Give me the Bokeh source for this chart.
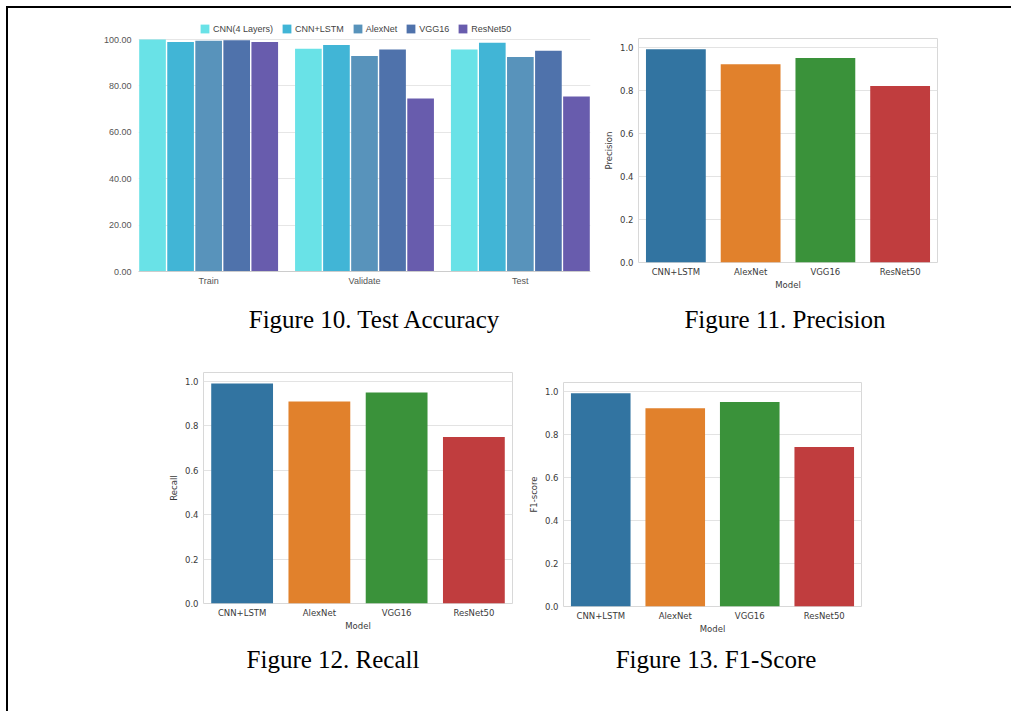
from bokeh.plotting import figure
from bokeh.models import (ColumnDataSource, FactorRange, Range1d, FixedTicker, Legend,
                          LegendItem, NumeralTickFormatter, Div)
from bokeh.layouts import column
from bokeh.transform import dodge
from bokeh.embed import file_html
from bokeh.resources import INLINE

# ---------------- data ----------------
# Figure 10 (accuracy, %)
acc_groups = ["Train", "Validate", "Test"]
acc_models = ["CNN(4 Layers)", "CNN+LSTM", "AlexNet", "VGG16", "ResNet50"]
acc_cnn4 = [100.0, 96.0, 95.7]
acc_cnn_lstm = [98.9, 97.6, 98.6]
acc_alexnet = [99.5, 92.9, 92.5]
acc_vgg16 = [99.7, 95.7, 95.2]
acc_resnet50 = [98.9, 74.6, 75.4]
acc_ticks = [0, 20, 40, 60, 80, 100]

# Figures 11-13
metric_models = ["CNN+LSTM", "AlexNet", "VGG16", "ResNet50"]
precision = [0.99, 0.92, 0.95, 0.82]
recall = [0.99, 0.91, 0.95, 0.75]
f1_score = [0.99, 0.92, 0.95, 0.74]
metric_ticks = [0.0, 0.2, 0.4, 0.6, 0.8, 1.0]

captions = ["Figure 10. Test Accuracy", "Figure 11. Precision",
            "Figure 12. Recall", "Figure 13. F1-Score"]

# ---------------- styles ----------------
acc_colors = ["#69e2e7", "#41b5d6", "#5893bb", "#4f72ab", "#685cad"]
sns_colors = ["#3274a1", "#e1812c", "#3a923a", "#c03d3e"]
SANS = "Liberation Sans"
SNS = "DejaVu Sans"
SERIF = "Liberation Serif"

# uniform plot borders (plots sharing a column get their borders aligned)
BL, BR, BT, BB = 128, 10, 10, 40


def place(x, y):
    return {"position": "absolute", "left": f"{x}px", "top": f"{y}px"}


def frame_fig(fx, fy, fw, fh, **kw):
    return figure(width=BL + fw + BR, height=BT + fh + BB,
                  min_border_left=BL, min_border_right=BR,
                  min_border_top=BT, min_border_bottom=BB,
                  output_backend="svg", toolbar_location=None,
                  border_fill_color=None, styles=place(fx - BL, fy - BT), **kw)


# ---------------- Figure 10 ----------------
# frame spans y 14..271; value 100 sits at y 39
p10 = frame_fig(138, 14, 452, 257,
                x_range=Range1d(-0.45, 2.45), y_range=Range1d(0, 100 * 257 / 232))
series = [acc_cnn4, acc_cnn_lstm, acc_alexnet, acc_vgg16, acc_resnet50]
items = []
for i, (name, vals, col) in enumerate(zip(acc_models, series, acc_colors)):
    src = ColumnDataSource(dict(x=list(range(len(acc_groups))), top=vals))
    r = p10.vbar(x=dodge("x", (i - 2) * 0.18), top="top", bottom=0, width=0.171,
                 source=src, fill_color=col, line_color=None)
    items.append(LegendItem(label=name, renderers=[r]))

leg = Legend(items=items, orientation="horizontal", location=(61, 237),
             glyph_width=11, glyph_height=11, label_height=11, label_standoff=3,
             spacing=8, padding=4, margin=0, border_line_color=None,
             background_fill_alpha=0, label_text_font=SANS,
             label_text_font_size="9px", label_text_color="#444444")
p10.add_layout(leg, "center")

p10.outline_line_color = None
p10.xgrid.visible = False
p10.ygrid.grid_line_color = "#e6e6e6"
p10.ygrid.ticker = FixedTicker(ticks=acc_ticks)
p10.yaxis.ticker = FixedTicker(ticks=acc_ticks)
p10.yaxis.formatter = NumeralTickFormatter(format="0.00")
p10.xaxis.ticker = FixedTicker(ticks=list(range(len(acc_groups))))
p10.xaxis.major_label_overrides = {i: g for i, g in enumerate(acc_groups)}
for ax in (p10.xaxis, p10.yaxis):
    ax.major_tick_line_color = None
    ax.minor_tick_line_color = None
    ax.major_tick_out = 0
    ax.major_tick_in = 0
    ax.minor_tick_out = 0
    ax.major_label_text_font = SANS
    ax.major_label_text_font_size = "9px"
    ax.major_label_text_color = "#555555"
p10.yaxis.axis_line_color = None
p10.xaxis.axis_line_color = "#cccccc"
p10.yaxis.major_label_standoff = 7
p10.xaxis.major_label_standoff = 4


# ---------------- Figures 11-13 ----------------
def metric_fig(vals, ylabel, fx, fy, fw, fh):
    p = frame_fig(fx, fy, fw, fh,
                  x_range=FactorRange(*metric_models), y_range=Range1d(0, 1.04))
    src = ColumnDataSource(dict(model=metric_models, val=vals, color=sns_colors))
    p.vbar(x="model", top="val", bottom=0, width=0.8, source=src,
           fill_color="color", line_color=None)
    p.outline_line_color = "#d8d8d8"
    p.xgrid.visible = False
    p.ygrid.grid_line_color = "#e3e3e3"
    p.ygrid.ticker = FixedTicker(ticks=metric_ticks)
    p.yaxis.ticker = FixedTicker(ticks=metric_ticks)
    p.yaxis.formatter = NumeralTickFormatter(format="0.0")
    p.xaxis.axis_label = "Model"
    p.yaxis.axis_label = ylabel
    for ax in (p.xaxis, p.yaxis):
        ax.axis_line_color = None
        ax.major_tick_line_color = None
        ax.minor_tick_line_color = None
        ax.major_tick_out = 0
        ax.major_tick_in = 0
        ax.minor_tick_out = 0
        ax.major_label_text_font = SNS
        ax.major_label_text_font_size = "8.5px"
        ax.major_label_text_color = "#3a3a3a"
        ax.axis_label_text_font = SNS
        ax.axis_label_text_font_size = "8.5px"
        ax.axis_label_text_font_style = "normal"
        ax.axis_label_text_color = "#3a3a3a"
    p.yaxis.major_label_standoff = 5
    p.yaxis.axis_label_standoff = 3
    p.xaxis.major_label_standoff = 4
    p.xaxis.axis_label_standoff = 0
    return p


p11 = metric_fig(precision, "Precision", 638, 38, 299, 224)
p12 = metric_fig(recall, "Recall", 203, 372, 309, 231)
p13 = metric_fig(f1_score, "F1-score", 563, 382, 298, 224)


# ---------------- captions & frame ----------------
def cap(text, cx, cy, w=320, h=40):
    st = place(cx - w // 2, cy - h // 2)
    st.update({"font-family": SERIF, "font-size": "25px", "color": "#000000",
               "text-align": "center", "line-height": f"{h}px"})
    return Div(text=text, width=w, height=h, margin=0, styles=st)


def blk(x, y, w, h):
    st = place(x, y)
    st["background-color"] = "#000000"
    return Div(text="", width=w, height=h, margin=0, styles=st)


c10 = cap(captions[0], 374, 320)
c11 = cap(captions[1], 785, 320)
c12 = cap(captions[2], 333, 660)
c13 = cap(captions[3], 716, 660)

root = column(blk(6, 6, 1006, 2), blk(6, 6, 2, 706),
              p10, p11, p12, p13, c10, c11, c12, c13,
              width=1005, height=705)

open("out.html", "w").write(file_html(root, INLINE))
